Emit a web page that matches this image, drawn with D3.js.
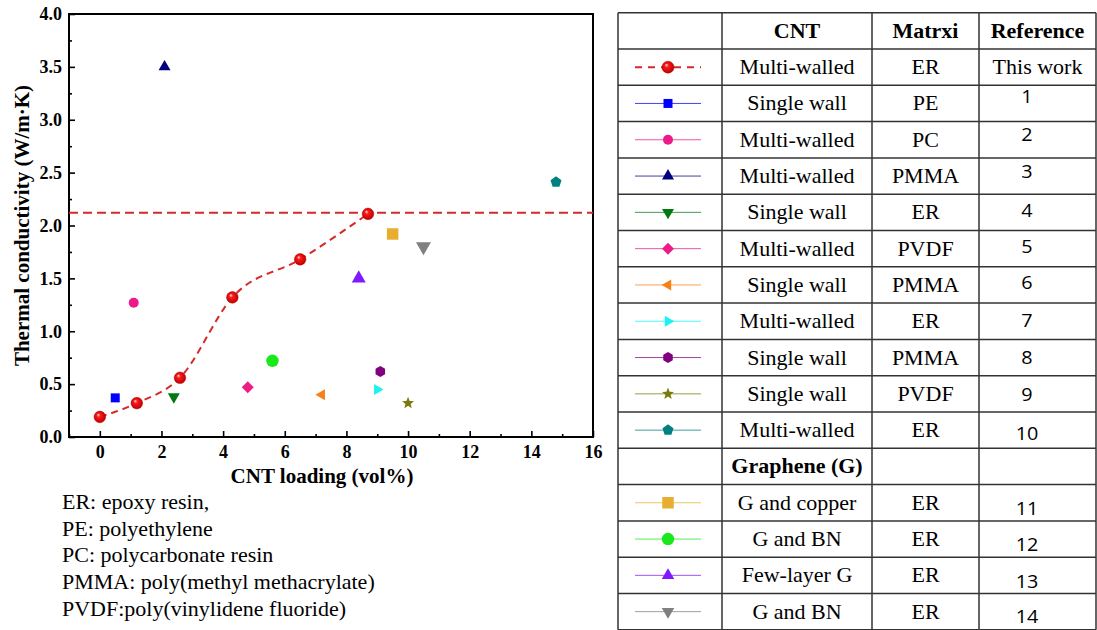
<!DOCTYPE html>
<html>
<head>
<meta charset="utf-8">
<script src="https://cdn.jsdelivr.net/npm/d3@7"></script>
<style>
body { margin: 0; background: #fff; }
svg { display: block; }
.axis .tick text { font-family: "Liberation Serif", "Times New Roman", serif; font-weight: bold; font-size: 18px; fill: #000; }
.axis .tick line { stroke: #000; stroke-width: 1.6; }
</style>
</head>
<body>
<svg id="chart" width="1097" height="630"></svg>
<script>
// this work (red balls + spline)
var workLoad = [0, 1.2, 2.6, 4.3, 6.5, 8.7];
var workK = [0.19, 0.32, 0.56, 1.32, 1.68, 2.11];
var workLevel = 2.12;

// literature values, refs 1-14
var refNo = ["1", "2", "3", "4", "5", "6", "7", "8", "9", "10", "11", "12", "13", "14"];
var refLoad = [0.5, 1.1, 2.1, 2.4, 4.8, 7.2, 9.0, 9.1, 10.0, 14.8, 9.5, 5.6, 8.4, 10.5];
var refK = [0.37, 1.27, 3.5, 0.38, 0.47, 0.40, 0.45, 0.62, 0.32, 2.41, 1.92, 0.72, 1.50, 1.80];
var refCnt = ["Single wall", "Multi-walled", "Multi-walled", "Single wall", "Multi-walled",
	"Single wall", "Multi-walled", "Single wall", "Single wall", "Multi-walled",
	"G and copper", "G and BN", "Few-layer G", "G and BN"];
var refMatrix = ["PE", "PC", "PMMA", "ER", "PVDF", "PMMA", "ER", "PMMA", "PVDF", "ER", "ER", "ER", "ER", "ER"];

var headers = ["", "CNT", "Matrxi", "Reference"];
var workRow = ["Multi-walled", "ER", "This work"];
var grapheneTitle = "Graphene (G)";

var xTicks = [0, 2, 4, 6, 8, 10, 12, 14, 16];
var yTicks = [0, 0.5, 1.0, 1.5, 2.0, 2.5, 3.0, 3.5, 4.0];

var notes = ["ER: epoxy resin,", "PE: polyethylene", "PC: polycarbonate resin",
	"PMMA: poly(methyl methacrylate)", "PVDF:poly(vinylidene fluoride)"];

// marker styles
var refShape = ["square", "circle", "up", "down", "diamond", "left", "right", "hexagon", "star", "pentagon",
	"square", "circle", "up", "down"];
var refColor = ["#0000ff", "#ee1a8a", "#000080", "#007a10", "#ee1d86", "#f98017", "#1cf2f2", "#800080",
	"#7a7a0a", "#008080", "#e8ae32", "#1be81b", "#7f1aff", "#808080"];
var refSize = [9, 10, 12, 12, 12, 11, 11, 10, 12, 11, 11.5, 12.5, 14, 15];
// small vertical nudges of the reference numbers in the table
var refNudge = [-7, -5, -4, -2, -2, -2, -1, 0, 1, 4, 6, 6, 6, 5];

var serif = '"Liberation Serif", "Times New Roman", serif';
var red = "#d42a2a";

var svg = d3.select("#chart");

var defs = svg.append("defs");
var grad = defs.append("radialGradient")
	.attr("id", "ball")
	.attr("cx", "50%").attr("cy", "50%").attr("r", "55%")
	.attr("fx", "35%").attr("fy", "30%");
grad.append("stop").attr("offset", "0%").attr("stop-color", "#ffe0e0");
grad.append("stop").attr("offset", "30%").attr("stop-color", "#ff1a1a");
grad.append("stop").attr("offset", "100%").attr("stop-color", "#b00000");

function poly(n, rot, R) {
	var pts = [];
	for (var i = 0; i < n; i++) {
		var a = rot + i * 2 * Math.PI / n;
		pts.push([R * Math.cos(a), R * Math.sin(a)]);
	}
	return "M" + pts.map(function(p) { return p[0].toFixed(2) + "," + p[1].toFixed(2) }).join("L") + "Z";
}

function star(R, r) {
	var pts = [];
	for (var i = 0; i < 10; i++) {
		var a = -Math.PI / 2 + i * Math.PI / 5;
		var rr = (i % 2 == 0) ? R : r;
		pts.push([rr * Math.cos(a), rr * Math.sin(a)]);
	}
	return "M" + pts.map(function(p) { return p[0].toFixed(2) + "," + p[1].toFixed(2) }).join("L") + "Z";
}

function shapePath(shape, s) {
	var h = s / 2;
	if (shape == "circle") return d3.symbol(d3.symbolCircle, Math.PI * h * h)();
	if (shape == "square") return poly(4, Math.PI / 4, h * Math.SQRT2);
	if (shape == "diamond") return poly(4, 0, h);
	if (shape == "up") return poly(3, -Math.PI / 2, s / Math.sqrt(3));
	if (shape == "down") return poly(3, Math.PI / 2, s / Math.sqrt(3));
	if (shape == "left") return poly(3, Math.PI, s / Math.sqrt(3));
	if (shape == "right") return poly(3, 0, s / Math.sqrt(3));
	if (shape == "hexagon") return poly(6, -Math.PI / 2, h * 1.1);
	if (shape == "pentagon") return poly(5, -Math.PI / 2, h * 1.05);
	if (shape == "star") return star(h * 1.05, h * 0.45);
}

// ---------- scatter chart ----------
var x = d3.scaleLinear().domain([-1, 16]).range([69, 593]);
var y = d3.scaleLinear().domain([0, 4]).range([437, 14]);

var xMinor = d3.range(-1, 16, 2);
var yMinor = d3.range(0.25, 4, 0.5);

svg.append("g").attr("class", "axis")
	.attr("transform", "translate(0,437)")
	.call(d3.axisBottom(x).tickValues(xTicks).tickFormat(d3.format("d")).tickSize(-6).tickPadding(8))
	.call(function(g) { g.select(".domain").remove() });

svg.append("g").attr("class", "axis")
	.attr("transform", "translate(0,437)")
	.call(d3.axisBottom(x).tickValues(xMinor).tickFormat("").tickSize(-3))
	.call(function(g) { g.select(".domain").remove() });

svg.append("g").attr("class", "axis")
	.attr("transform", "translate(69,0)")
	.call(d3.axisLeft(y).tickValues(yTicks).tickFormat(d3.format(".1f")).tickSize(-6).tickPadding(7))
	.call(function(g) { g.select(".domain").remove() });

svg.append("g").attr("class", "axis")
	.attr("transform", "translate(69,0)")
	.call(d3.axisLeft(y).tickValues(yMinor).tickFormat("").tickSize(-3))
	.call(function(g) { g.select(".domain").remove() });

svg.append("rect")
	.attr("x", x(-1)).attr("y", y(4))
	.attr("width", x(16) - x(-1)).attr("height", y(0) - y(4))
	.attr("fill", "none").attr("stroke", "#000").attr("stroke-width", 2);

svg.append("text")
	.attr("transform", "translate(22," + ((y(0) + y(4)) / 2) + ") rotate(-90)")
	.attr("dy", "0.35em")
	.attr("text-anchor", "middle")
	.style("font-family", serif).style("font-weight", "bold").style("font-size", "21px")
	.text("Thermal conductivity (W/m\u00b7K)");

svg.append("text")
	.attr("x", 322).attr("y", 483)
	.attr("text-anchor", "middle")
	.style("font-family", serif).style("font-weight", "bold").style("font-size", "21px")
	.text("CNT loading (vol%)");

// this work reference level
svg.append("line")
	.attr("x1", x(-1)).attr("x2", x(16))
	.attr("y1", y(workLevel)).attr("y2", y(workLevel))
	.attr("stroke", red).attr("stroke-width", 2).attr("stroke-dasharray", "9,5");

var workPts = workLoad.map(function(d, i) { return [d, workK[i]] });

svg.append("path")
	.datum(workPts)
	.attr("d", d3.line().x(function(d) { return x(d[0]) }).y(function(d) { return y(d[1]) }).curve(d3.curveMonotoneX))
	.attr("fill", "none").attr("stroke", red).attr("stroke-width", 2).attr("stroke-dasharray", "7,5");

svg.selectAll(".ball")
	.data(workPts)
	.enter()
	.append("circle")
	.attr("class", "ball")
	.attr("cx", function(d) { return x(d[0]) })
	.attr("cy", function(d) { return y(d[1]) })
	.attr("r", 5.8)
	.attr("fill", "url(#ball)")
	.attr("stroke", "#c00000").attr("stroke-width", 0.5);

svg.selectAll(".ref")
	.data(refLoad)
	.enter()
	.append("path")
	.attr("class", "ref")
	.attr("transform", function(d, i) { return "translate(" + x(d) + "," + y(refK[i]) + ")" })
	.attr("d", function(d, i) { return shapePath(refShape[i], refSize[i]) })
	.attr("fill", function(d, i) { return refColor[i] });

// ---------- notes under the chart ----------
svg.selectAll(".note")
	.data(notes)
	.enter()
	.append("text")
	.attr("class", "note")
	.attr("transform", function(d, i) { return "translate(62," + (509 + i * 26.7) + ") scale(1.1,1)" })
	.style("font-family", serif).style("font-size", "20px")
	.text(function(d) { return d });

// ---------- table ----------
var colX = [618, 722, 872, 979, 1096];
var tTop = 12.7, rowH = 36.3;
var nRows = 17;
var tbl = svg.append("g");

tbl.selectAll(".hl")
	.data(d3.range(nRows + 1))
	.enter()
	.append("line")
	.attr("x1", colX[0]).attr("x2", colX[4])
	.attr("y1", function(d) { return tTop + d * rowH })
	.attr("y2", function(d) { return tTop + d * rowH })
	.attr("stroke", "#333").attr("stroke-width", 1.5);

tbl.selectAll(".vl")
	.data(colX)
	.enter()
	.append("line")
	.attr("x1", function(d) { return d }).attr("x2", function(d) { return d })
	.attr("y1", tTop).attr("y2", tTop + nRows * rowH)
	.attr("stroke", "#333").attr("stroke-width", 1.5);

function cellText(col, row, txt, bold, dy, family, size) {
	var cx = (colX[col] + colX[col + 1]) / 2;
	if (col == 3 && family) cx = 1027;
	var cy = tTop + row * rowH + rowH / 2 + (dy || 0);
	tbl.append("text")
		.attr("transform", "translate(" + cx + "," + cy + ") scale(1.1,1)")
		.attr("dy", "0.35em")
		.attr("text-anchor", "middle")
		.style("font-family", family || serif)
		.style("font-size", (size || 20) + "px")
		.style("font-weight", bold ? "bold" : "normal")
		.text(txt);
}

function legendKey(row, shape, color, size, dashed) {
	var cy = tTop + row * rowH + rowH / 2;
	var g = tbl.append("g");
	g.append("line")
		.attr("x1", 635).attr("x2", 701).attr("y1", cy).attr("y2", cy)
		.attr("stroke", color)
		.attr("stroke-width", dashed ? 2 : 1)
		.attr("stroke-opacity", dashed ? 1 : 0.75)
		.attr("stroke-dasharray", dashed ? "7,6" : null);
	if (shape == "ball") {
		g.append("circle").attr("cx", 668).attr("cy", cy).attr("r", 6)
			.attr("fill", "url(#ball)").attr("stroke", "#c00000").attr("stroke-width", 0.5);
	} else {
		g.append("path")
			.attr("transform", "translate(668," + cy + ")")
			.attr("d", shapePath(shape, size))
			.attr("fill", color);
	}
}

headers.forEach(function(h, i) { if (h) cellText(i, 0, h, true) });

legendKey(1, "ball", red, 12, true);
workRow.forEach(function(t, i) { cellText(i + 1, 1, t, false) });

refNo.forEach(function(n, i) {
	var row = i < 10 ? i + 2 : i + 3;
	legendKey(row, refShape[i], refColor[i], Math.min(refSize[i], 12.5), false);
	cellText(1, row, refCnt[i], false);
	cellText(2, row, refMatrix[i], false);
	cellText(3, row, n, false, refNudge[i], '"Open Sans", "Liberation Sans", sans-serif', 18);
});

cellText(1, 12, grapheneTitle, true);
</script>
</body>
</html>
